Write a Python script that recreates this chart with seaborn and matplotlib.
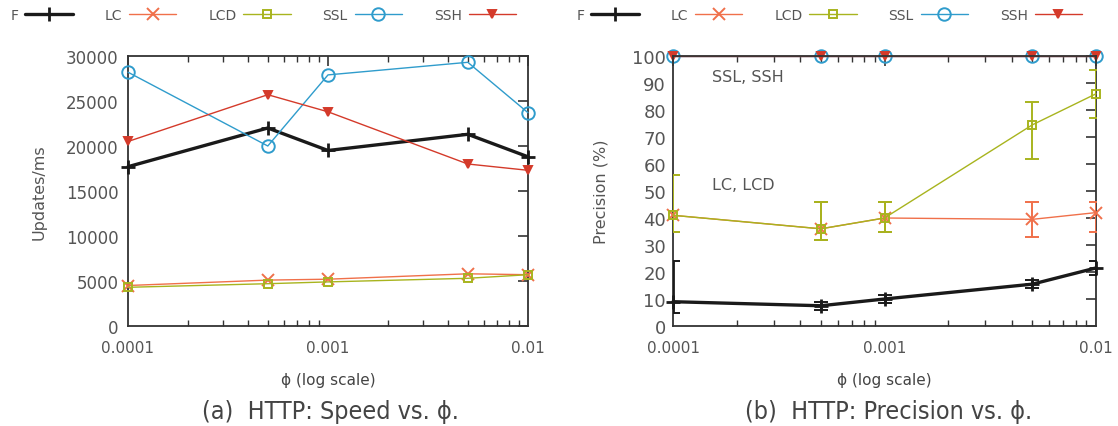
import numpy as np
import pandas as pd
import matplotlib
matplotlib.use("Agg")
import matplotlib.pyplot as plt
import seaborn as sns
from matplotlib.lines import Line2D
from matplotlib.ticker import FixedLocator, NullFormatter
from matplotlib import font_manager

phi = [0.0001, 0.0005, 0.001, 0.005, 0.01]
series = ["F", "LC", "LCD", "SSL", "SSH"]

speed_F = [17700, 22000, 19500, 21300, 18800]
speed_LC = [4500, 5100, 5200, 5800, 5700]
speed_LCD = [4300, 4700, 4900, 5300, 5700]
speed_SSL = [28200, 20000, 27900, 29300, 23700]
speed_SSH = [20500, 25700, 23800, 18000, 17300]

prec_F = [9, 7.5, 10, 15.5, 21.5]
prec_F_lo = [5, 6, 8.5, 14, 19]
prec_F_hi = [24, 9, 11.5, 17, 24]
prec_LC = [41, 36, 40, 39.5, 42]
prec_LC_lo = [35, 32, 35, 33, 35]
prec_LC_hi = [56, 46, 46, 46, 46]
prec_LCD = [41, 36, 40, 74.5, 86]
prec_LCD_lo = [35, 32, 35, 62, 77]
prec_LCD_hi = [56, 46, 46, 83, 95]
prec_SSL = [100, 100, 100, 100, 100]
prec_SSH = [100, 100, 100, 100, 100]

colors = {"F": "#1a1a1a", "LC": "#f0704a", "LCD": "#a8b41e", "SSL": "#2f9ccc", "SSH": "#d43a2a"}
markers = {"F": "+", "LC": "x", "LCD": "s", "SSL": "o", "SSH": "v"}
lws = {"F": 2.4, "LC": 1.0, "LCD": 1.0, "SSL": 1.0, "SSH": 1.0}
msz = {"F": 10, "LC": 8, "LCD": 6, "SSL": 9, "SSH": 6}

sns.set_theme(style="white")
plt.rcParams["font.family"] = ["DejaVu Sans"]

has_cond = any(f.name == "DejaVu Sans" and str(f.stretch) in ("condensed", "semi-condensed", "87.5", "75")
               for f in font_manager.fontManager.ttflist)
cap_kw = dict(fontsize=18, fontstretch="condensed") if has_cond else dict(fontsize=15.5)

fig = plt.figure(figsize=(11.18, 4.27), dpi=100)
W, H = 1118, 427
ax1 = fig.add_axes([128 / W, 1 - 327 / H, 400 / W, 270 / H])
ax2 = fig.add_axes([673 / W, 1 - 327 / H, 423 / W, 270 / H])

speed = {"F": speed_F, "LC": speed_LC, "LCD": speed_LCD, "SSL": speed_SSL, "SSH": speed_SSH}
prec = {"F": prec_F, "LC": prec_LC, "LCD": prec_LCD, "SSL": prec_SSL, "SSH": prec_SSH}
prec_lo = {"F": prec_F_lo, "LC": prec_LC_lo, "LCD": prec_LCD_lo}
prec_hi = {"F": prec_F_hi, "LC": prec_LC_hi, "LCD": prec_LCD_hi}


def draw(ax, data, low_z=()):
    for s in series:
        df = pd.DataFrame({"phi": phi, "v": data[s]})
        mfc = "none" if s in ("LCD", "SSL") else colors[s]
        sns.lineplot(data=df, x="phi", y="v", ax=ax, color=colors[s], lw=lws[s],
                     marker=markers[s], markersize=msz[s], markerfacecolor=mfc,
                     markeredgecolor=colors[s], markeredgewidth=1.4 if s != "F" else 2.0,
                     clip_on=False, zorder=2 if s in low_z else 3, legend=False)


draw(ax1, speed)
draw(ax2, prec, low_z=("SSL", "SSH"))

for s in ["F", "LC", "LCD"]:
    v = np.array(prec[s])
    lo = v - np.array(prec_lo[s])
    hi = np.array(prec_hi[s]) - v
    ax2.errorbar(phi, v, yerr=[lo, hi], fmt="none", ecolor=colors[s],
                 elinewidth=1.4 if s != "F" else 2.0, capsize=5, capthick=1.4, zorder=3)

tick_col = "#555555"
for ax in (ax1, ax2):
    ax.set_xscale("log")
    ax.set_xlim(0.0001, 0.01)
    ax.xaxis.set_major_locator(FixedLocator([0.0001, 0.001, 0.01]))
    ax.set_xticklabels(["0.0001", "0.001", "0.01"])
    minors = [k * 10 ** e for e in (-4, -3) for k in range(2, 10)]
    ax.xaxis.set_minor_locator(FixedLocator(minors))
    ax.xaxis.set_minor_formatter(NullFormatter())
    ax.tick_params(axis="both", which="major", direction="in", length=7, width=1.2,
                   top=True, right=True, labelcolor=tick_col, color="#333333")
    ax.tick_params(axis="x", which="major", labelsize=11, pad=10)
    ax.tick_params(axis="both", which="minor", direction="in", length=4, width=1.0,
                   top=True, right=True, bottom=True, color="#333333")
    for sp in ax.spines.values():
        sp.set_color("#333333")
        sp.set_linewidth(1.3)
        sp.set_zorder(2.5)
    ax.set_xlabel("ϕ (log scale)", fontsize=11, color="#444444", labelpad=12)

ax1.set_ylim(0, 30000)
ax1.set_yticks(np.arange(0, 30001, 5000))
ax1.tick_params(axis="y", which="major", labelsize=12, pad=7)
ax1.set_ylabel("Updates/ms", fontsize=11.5, color="#555555", labelpad=14)

ax2.set_ylim(0, 100)
ax2.set_yticks(np.arange(0, 101, 10))
ax2.tick_params(axis="y", which="major", labelsize=13, pad=5)
ax2.set_ylabel("Precision (%)", fontsize=11.5, color="#555555", labelpad=17)
ax2.text(0.000153, 92.5, "SSL, SSH", fontsize=11.5, color="#555555", ha="left", va="center")
ax2.text(0.000153, 52.5, "LC, LCD", fontsize=11.5, color="#555555", ha="left", va="center")

fig.text(330 / W, 1 - 412 / H, "(a)  HTTP: Speed vs. ϕ.", color="#444444",
         ha="center", va="center", **cap_kw)
fig.text(889 / W, 1 - 412 / H, "(b)  HTTP: Precision vs. ϕ.", color="#444444",
         ha="center", va="center", **cap_kw)

handles = []
for s in series:
    mfc = "none" if s in ("LCD", "SSL") else colors[s]
    handles.append(Line2D([], [], color=colors[s], lw=lws[s], marker=markers[s],
                          markersize=msz[s], markerfacecolor=mfc, markeredgecolor=colors[s],
                          markeredgewidth=1.4 if s != "F" else 2.0))
for x0 in (-2 / W, 564 / W):
    fig.legend(handles, series, loc="center left", bbox_to_anchor=(x0, 1 - 16 / H),
               ncol=5, frameon=False, markerfirst=False, handlelength=3.4, columnspacing=2.3,
               handletextpad=0.5, fontsize=10, labelcolor="#555555")

fig.savefig("out.png", dpi=100)
